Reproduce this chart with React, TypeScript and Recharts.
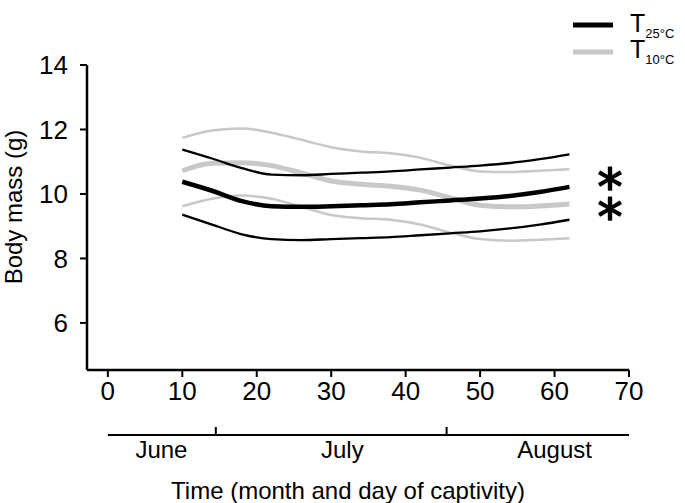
import React from 'react';
import { LineChart, Line, XAxis, YAxis } from 'recharts';

// ---- data ----
const days = [10, 14, 18, 22, 26, 30, 34, 38, 42, 46, 50, 54, 58, 62];
const t25Mean = [10.38, 10.1, 9.78, 9.62, 9.6, 9.62, 9.65, 9.68, 9.74, 9.8, 9.86, 9.94, 10.06, 10.22];
const t25Upper = [11.38, 11.1, 10.8, 10.6, 10.58, 10.62, 10.66, 10.7, 10.76, 10.82, 10.88, 10.96, 11.08, 11.23];
const t25Lower = [9.36, 9.05, 8.75, 8.6, 8.57, 8.6, 8.63, 8.66, 8.72, 8.78, 8.84, 8.93, 9.05, 9.2];
const t10Mean = [10.72, 10.95, 10.97, 10.88, 10.65, 10.4, 10.3, 10.24, 10.12, 9.88, 9.65, 9.6, 9.63, 9.69];
const t10Upper = [11.74, 11.97, 12.03, 11.9, 11.68, 11.45, 11.32, 11.26, 11.12, 10.88, 10.7, 10.68, 10.72, 10.77];
const t10Lower = [9.62, 9.85, 9.95, 9.85, 9.6, 9.35, 9.25, 9.2, 9.05, 8.8, 8.6, 8.55, 8.58, 8.63];

const xTicks = [0, 10, 20, 30, 40, 50, 60, 70];
const yTicks = [6, 8, 10, 12, 14];
const months = ['June', 'July', 'August'];
const monthLabelDays = [7.2, 31.5, 60];
const monthBoundaryDays = [14.5, 45.5];
const monthSpanDays = [0, 70];
const legendItems = [
  { label: '25°C', color: '#000000' },
  { label: '10°C', color: '#c8c8c8' },
];
const significance = ['*', '*'];

const data = days.map((d, i) => ({
  day: d,
  t25Mean: t25Mean[i],
  t25Upper: t25Upper[i],
  t25Lower: t25Lower[i],
  t10Mean: t10Mean[i],
  t10Upper: t10Upper[i],
  t10Lower: t10Lower[i],
}));

// ---- layout ----
const W = 685;
const H = 503;
const X_MIN = -2.8;
const X_MAX = 70;
const Y_MIN = 4.54;
const Y_MAX = 14;
const PLOT_LEFT = 87;
const PLOT_RIGHT = 629;
const FONT = '"Liberation Sans", Arial, Helvetica, sans-serif';
const GRAY = '#c8c8c8';

const dayToPx = (d: number) => PLOT_LEFT + ((d - X_MIN) * (PLOT_RIGHT - PLOT_LEFT)) / (X_MAX - X_MIN);

export default function App() {
  const monthLineY = 435;
  return (
    <div style={{ position: 'absolute', left: 0, top: 0, width: W, height: H, background: '#fff' }}>
      <LineChart
        width={W}
        height={H}
        data={data}
        margin={{ top: 65, right: W - PLOT_RIGHT, left: 27, bottom: 103 }}
        style={{ fontFamily: FONT }}
      >
        <XAxis
          dataKey="day"
          type="number"
          domain={[X_MIN, X_MAX]}
          ticks={xTicks}
          allowDataOverflow
          height={30}
          axisLine={{ stroke: '#000', strokeWidth: 2.5 }}
          tickLine={{ stroke: '#000', strokeWidth: 2 }}
          tickSize={7}
          tickMargin={5}
          tick={{ fill: '#000', fontSize: 26, fontFamily: FONT }}
        />
        <YAxis
          type="number"
          domain={[Y_MIN, Y_MAX]}
          ticks={yTicks}
          allowDataOverflow
          width={60}
          axisLine={{ stroke: '#000', strokeWidth: 2.5 }}
          tickLine={{ stroke: '#000', strokeWidth: 2 }}
          tickSize={7}
          tickMargin={12}
          tick={{ fill: '#000', fontSize: 26, fontFamily: FONT }}
        />
        <Line dataKey="t10Upper" type="monotone" stroke={GRAY} strokeWidth={2.5} dot={false} isAnimationActive={false} />
        <Line dataKey="t10Lower" type="monotone" stroke={GRAY} strokeWidth={2.5} dot={false} isAnimationActive={false} />
        <Line dataKey="t10Mean" type="monotone" stroke={GRAY} strokeWidth={5} dot={false} isAnimationActive={false} />
        <Line dataKey="t25Upper" type="monotone" stroke="#000" strokeWidth={2.3} dot={false} isAnimationActive={false} />
        <Line dataKey="t25Lower" type="monotone" stroke="#000" strokeWidth={2.3} dot={false} isAnimationActive={false} />
        <Line dataKey="t25Mean" type="monotone" stroke="#000" strokeWidth={4.5} dot={false} isAnimationActive={false} />
      </LineChart>
      <svg
        width={W}
        height={H}
        style={{ position: 'absolute', left: 0, top: 0, pointerEvents: 'none', fontFamily: FONT }}
      >
        {/* y axis title */}
        <text transform="translate(22,207) rotate(-90)" textAnchor="middle" fontSize={24} fill="#000">
          Body mass (g)
        </text>
        {/* month bar */}
        <line
          x1={dayToPx(monthSpanDays[0])}
          x2={dayToPx(monthSpanDays[1])}
          y1={monthLineY}
          y2={monthLineY}
          stroke="#000"
          strokeWidth={2}
        />
        {monthBoundaryDays.map((d, i) => (
          <line key={'mb' + i} x1={dayToPx(d)} x2={dayToPx(d)} y1={monthLineY} y2={monthLineY - 8} stroke="#000" strokeWidth={2} />
        ))}
        {months.map((m, i) => (
          <text key={m} x={dayToPx(monthLabelDays[i])} y={458} textAnchor="middle" fontSize={24} fill="#000">
            {m}
          </text>
        ))}
        <text x={348} y={499} textAnchor="middle" fontSize={24} fill="#000">
          Time (month and day of captivity)
        </text>
        {/* legend */}
        {legendItems.map((it, i) => (
          <g key={it.label}>
            <line x1={573} x2={613} y1={25 + i * 27} y2={25 + i * 27} stroke={it.color} strokeWidth={5} />
            <text x={630} y={32 + i * 26} fontSize={25} fill="#000">
              T
              <tspan fontSize={13} dy={6}>
                {it.label}
              </tspan>
            </text>
          </g>
        ))}
        {/* significance markers */}
        {significance.map((s, i) => (
          <text
            key={'s' + i}
            x={610}
            y={204 + i * 30}
            textAnchor="middle"
            fontSize={50}
            fontFamily='"DejaVu Sans", sans-serif'
            fill="#000"
            stroke="#000"
            strokeWidth={1.6}
            strokeLinejoin="round"
          >
            {s}
          </text>
        ))}
      </svg>
    </div>
  );
}
